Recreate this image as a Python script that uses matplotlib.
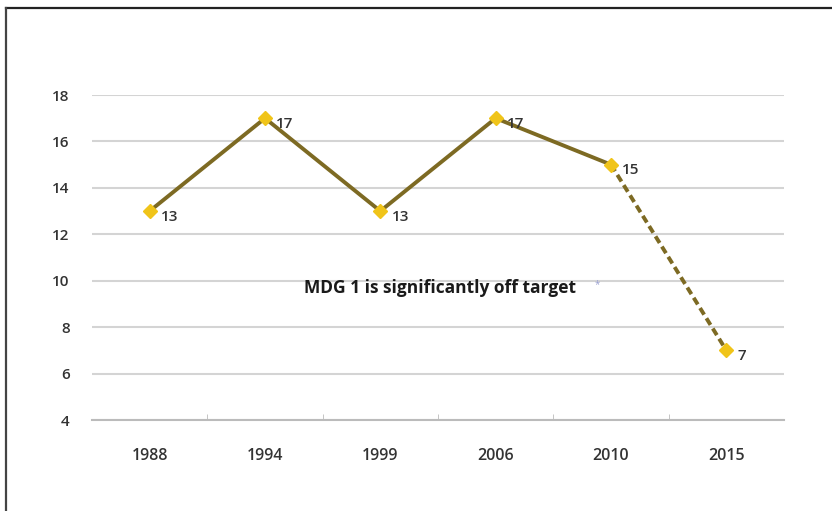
import matplotlib
matplotlib.use("Agg")
import matplotlib.pyplot as plt
from matplotlib.lines import Line2D

years = ["1988", "1994", "1999", "2006", "2010", "2015"]
values = [13, 17, 13, 17, 15, 7]
yticks = [4, 6, 8, 10, 12, 14, 16, 18]
annotation = "MDG 1 is significantly off target"

plt.rcParams['font.family'] = ['Open Sans', 'DejaVu Sans']

fig = plt.figure(figsize=(8.32, 5.11), dpi=100)
ax = fig.add_axes([92/832, 1-420/511, 692/832, 325/511])

x = list(range(len(years)))
line_col = "#7d6a23"
mk_col = "#f0c419"

# solid actual part
ax.plot(x[:5], values[:5], color=line_col, lw=2.8, zorder=3)
# dashed projection
ax.plot(x[4:], values[4:], color=line_col, lw=2.8, ls=(0, (2.0, 1.1)), zorder=3)
ax.plot(x, values, ls="none", marker="D", ms=7.5, color=mk_col, mec=mk_col, zorder=4)

for xi, v in zip(x, values):
    ax.annotate(str(v), (xi, v), xytext=(8, -4), textcoords="offset points",
                fontsize=11, fontweight="semibold", color="#333333",
                ha="left", va="center")

ax.set_xlim(-0.5, len(years) - 0.5)
ax.set_ylim(4, 18)
ax.set_yticks(yticks)
ax.set_yticklabels([str(t) for t in yticks], fontsize=11, fontweight="semibold", color="#333333")
ax.set_xticks(x)
ax.set_xticklabels(years, fontsize=11.5, fontweight="semibold", color="#333333")
ax.tick_params(axis="y", length=0, pad=16)
ax.tick_params(axis="x", length=0, pad=20)
ax.set_xticks([i + 0.5 for i in x[:-1]], minor=True)
ax.tick_params(axis="x", which="minor", length=4, color="#bbbbbb", direction="in")

ax.grid(axis="y", color="#d4d4d4", lw=1.5)
ax.set_axisbelow(True)
for s in ["left", "right", "top"]:
    ax.spines[s].set_visible(False)
ax.spines["bottom"].set_color("#bbbbbb")
ax.spines["bottom"].set_linewidth(1.5)

ax.text(2.52, 9.7, annotation, fontsize=12.5, fontweight="bold", color="#1a1a1a",
        ha="center", va="center")
ax.text(3.88, 9.85, "*", fontsize=7, color="#9aa0d0", ha="center", va="center")

# outer frame (top and left)
fig.add_artist(Line2D([6/832, 1], [1-8/511, 1-8/511], color="#222222", lw=1.6))
fig.add_artist(Line2D([6/832, 6/832], [0, 1-8/511], color="#444444", lw=1.6))

fig.savefig("out.png", dpi=100)
